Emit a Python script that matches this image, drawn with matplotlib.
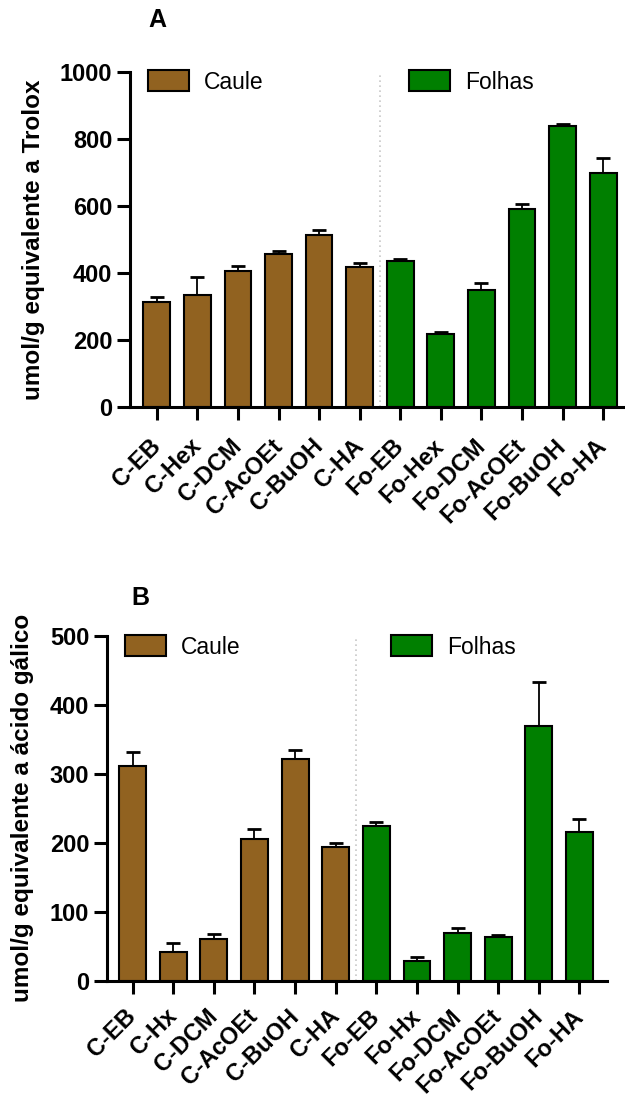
import matplotlib
matplotlib.use("Agg")
import matplotlib.pyplot as plt
import numpy as np
from matplotlib.patches import Patch

plt.rcParams["font.family"] = ["Liberation Sans", "DejaVu Sans"]

# Painel A - equivalente Trolox
labels_a = ["C-EB", "C-Hex", "C-DCM", "C-AcOEt", "C-BuOH", "C-HA",
            "Fo-EB", "Fo-Hex", "Fo-DCM", "Fo-AcOEt", "Fo-BuOH", "Fo-HA"]
caule_a = [313, 336, 408, 458, 514, 420]
caule_a_err = [15, 53, 13, 9, 15, 11]
folhas_a = [437, 218, 349, 591, 838, 700]
folhas_a_err = [6, 6, 21, 17, 6, 45]

# Painel B - equivalente acido galico
labels_b = ["C-EB", "C-Hx", "C-DCM", "C-AcOEt", "C-BuOH", "C-HA",
            "Fo-EB", "Fo-Hx", "Fo-DCM", "Fo-AcOEt", "Fo-BuOH", "Fo-HA"]
caule_b = [312, 42, 60, 205, 322, 194]
caule_b_err = [19, 12, 7, 15, 12, 5]
folhas_b = [224, 29, 69, 63, 370, 215]
folhas_b_err = [6, 5, 7, 3, 63, 20]

COR_CAULE = "#916220"
COR_FOLHAS = "#007f00"

W, H = 625, 1097
fig = plt.figure(figsize=(W / 100, H / 100), dpi=100)


def px_axes(left, right, top, bottom):
    # caixa do eixo em pixels -> fracao da figura
    return [left / W, 1 - bottom / H, (right - left) / W, (bottom - top) / H]


def painel(ax, labels, caule, caule_err, folhas, folhas_err, ymax, step,
           xlim, ylabel, leg_c, leg_f, xpad):
    n_c = len(caule)
    x_c = np.arange(n_c)
    x_f = np.arange(n_c, n_c + len(folhas))
    largura = 0.66

    ax.bar(x_c, caule, largura, color=COR_CAULE, edgecolor="black", linewidth=1.5, zorder=2)
    ax.bar(x_f, folhas, largura, color=COR_FOLHAS, edgecolor="black", linewidth=1.5, zorder=2)

    # so a barra de erro superior
    for xs, ys, es in ((x_c, caule, caule_err), (x_f, folhas, folhas_err)):
        ax.errorbar(xs, ys, yerr=[np.zeros(len(es)), es], fmt="none", ecolor="black",
                    elinewidth=1.3, capsize=4.7, capthick=2, zorder=1)

    # separador pontilhado entre caule e folhas
    ax.axvline(n_c - 0.5, color="#c8c8c8", linestyle=(0, (1, 2)), linewidth=1.2, zorder=0)

    ax.set_xlim(*xlim)
    ax.set_ylim(0, ymax)
    ax.set_yticks(np.arange(0, ymax + 1, step))
    ax.set_xticks(np.arange(len(labels)))
    ax.set_xticklabels(labels, rotation=45, ha="right", va="center",
                       rotation_mode="anchor", fontsize=17, fontweight="bold")
    for t in ax.get_yticklabels():
        t.set_fontsize(17)
        t.set_fontweight("bold")

    for s in ("top", "right"):
        ax.spines[s].set_visible(False)
    for s in ("left", "bottom"):
        ax.spines[s].set_linewidth(2.2)
    ax.tick_params(axis="both", width=2.2, length=9.3)
    ax.tick_params(axis="y", pad=3.5)
    ax.tick_params(axis="x", pad=xpad)

    ax.set_ylabel(ylabel, fontsize=17.5, fontweight="bold")

    # duas legendas separadas
    h_c = Patch(facecolor=COR_CAULE, edgecolor="black", linewidth=1.5)
    h_f = Patch(facecolor=COR_FOLHAS, edgecolor="black", linewidth=1.5)
    opts = dict(frameon=False, fontsize=16.5, handlelength=1.8, handleheight=1.0,
                handletextpad=0.65, borderpad=0, borderaxespad=0, loc="center left",
                bbox_transform=fig.transFigure)
    l1 = ax.legend([h_c], ["Caule"], bbox_to_anchor=(leg_c[0] / W, 1 - leg_c[1] / H), **opts)
    ax.add_artist(l1)
    ax.legend([h_f], ["Folhas"], bbox_to_anchor=(leg_f[0] / W, 1 - leg_f[1] / H), **opts)


ax_a = fig.add_axes(px_axes(130, 623, 72, 407.5))
painel(ax_a, labels_a, caule_a, caule_a_err, folhas_a, folhas_a_err, 1000, 200,
       (-0.66, 11.49), "umol/g equivalente a Trolox", (148, 82), (409, 82), 16)
ax_a.yaxis.set_label_coords((45 - 130) / 493, 0.5)

ax_b = fig.add_axes(px_axes(107, 606.7, 636, 980.5))
painel(ax_b, labels_b, caule_b, caule_b_err, folhas_b, folhas_b_err, 500, 100,
       (-0.63, 11.67), "umol/g equivalente a ácido gálico", (125, 647), (391, 647), 14)
ax_b.yaxis.set_label_coords((34 - 107) / 499.7, 0.5)

fig.text(157 / W, 1 - 20 / H, "A", fontsize=18, fontweight="bold", ha="center", va="center")
fig.text(140 / W, 1 - 598 / H, "B", fontsize=18, fontweight="bold", ha="center", va="center")

fig.savefig("out.png", dpi=100)
